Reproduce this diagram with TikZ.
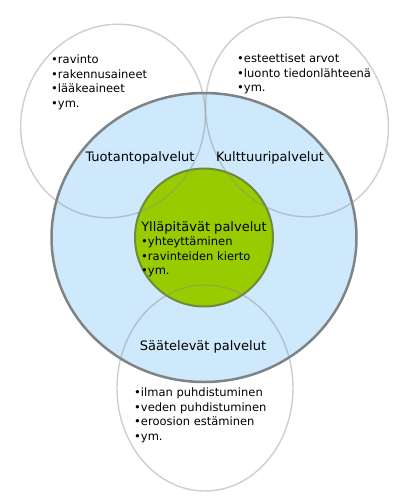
\documentclass[tikz,border=0pt]{standalone}
\usepackage{fontspec}
\setmainfont{DejaVu Sans}
\usepackage{xcolor}
\usetikzlibrary{positioning}
\definecolor{ringblue}{HTML}{CDE9FB}
\definecolor{ringedge}{HTML}{7F8386}
\definecolor{coregreen}{HTML}{99CC00}
\definecolor{coreedge}{HTML}{6F8A3A}
\definecolor{lobeedge}{HTML}{8A8A8A}

\begin{document}
\begin{tikzpicture} [x=1pt, y=-1pt,
  lobe/.style={draw=lobeedge, line width=1.4pt, opacity=.42},
  head/.style={font=\fontsize{13}{15}\selectfont, inner sep=0},
  items/.style={font=\fontsize{11.5}{14.5}\selectfont, align=left, anchor=north west, inner sep=0}]
\useasboundingbox (0,0) rectangle (400,504);
% rings
\fill[ringblue] (204,237.5) ellipse [x radius=152.5, y radius=144.5];
\fill[coregreen] (204,237.5) circle (69);
\draw[ringedge, line width=2.5pt] (204,237.5) ellipse [x radius=152.5, y radius=144.5];
\draw[coreedge, line width=2pt] (204,237.5) circle (69);
% outer lobes
\draw[lobe, rotate around={-25:(113,121)}] (113,121) ellipse [x radius=91, y radius=98];
\draw[lobe, rotate around={25:(297,117)}] (297,117) ellipse [x radius=89, y radius=102];
\draw[lobe] (205,388) ellipse [x radius=88, y radius=103];
% labels
\node[head] (tuot) at (140,158) {Tuotantopalvelut};
\node[head] (kult) at (270,158) {Kulttuuripalvelut};
\node[head] (yllap) at (204,228) {Ylläpitävät palvelut};
\node[head] (saat) at (203,347) {Säätelevät palvelut};
\node[items] (tuotlist) at (51,55) {•ravinto\\•rakennusaineet\\•lääkeaineet\\•ym.};
\node[items] (kultlist) at (237,54) {•esteettiset arvot\\•luonto tiedonlähteenä\\•ym.};
\node[items] (yllaplist) at (141,237) {•yhteyttäminen\\•ravinteiden kierto\\•ym.};
\node[items] (saatlist) at (134,388) {•ilman puhdistuminen\\•veden puhdistuminen\\•eroosion estäminen\\•ym.};
\end{tikzpicture}
\end{document}
